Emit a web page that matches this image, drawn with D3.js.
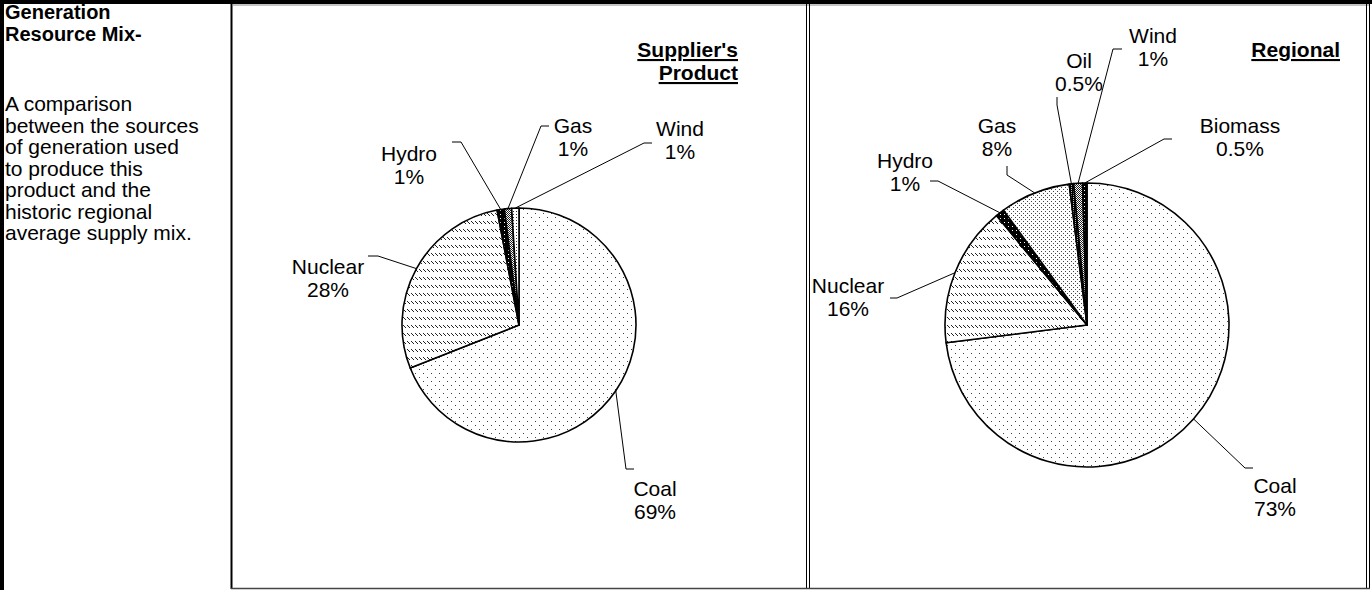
<!DOCTYPE html>
<html>
<head>
<meta charset="utf-8">
<script src="https://cdn.jsdelivr.net/npm/d3@7"></script>
<style>
  body { margin: 0; background: #fff; }
  text { font-family: "Liberation Sans", Arial, sans-serif; fill: #000; }
</style>
</head>
<body>
<svg id="chart"></svg>
<script>
// supplier's product mix (share of generation, %)
var supplierSources = ["Coal", "Nuclear", "Hydro", "Gas", "Wind"];
var supplierShares = [69, 28, 1, 1, 1];

// historic regional average mix (%)
var regionalSources = ["Coal", "Nuclear", "Hydro", "Gas", "Oil", "Wind", "Biomass"];
var regionalShares = [73, 16, 1, 8, 0.5, 1, 0.5];

var sideTitle = ["Generation", "Resource Mix-"];
var sideText = ["A comparison", "between the sources", "of generation used",
    "to produce this", "product and the", "historic regional", "average supply mix."];

var W = 1372, H = 590;
var FS = 21; // label font size
var svg = d3.select("#chart").attr("width", W).attr("height", H);
var defs = svg.append("defs");

// fill patterns, excel style
function makePattern(id, w, h, bg, fg, pixels) {
    var p = defs.append("pattern").attr("id", id)
        .attr("patternUnits", "userSpaceOnUse")
        .attr("width", w).attr("height", h);
    p.append("rect").attr("width", w).attr("height", h).attr("fill", bg);
    pixels.forEach(function(px) {
        p.append("rect").attr("x", px[0]).attr("y", px[1])
            .attr("width", 1).attr("height", 1).attr("fill", fg);
    });
}
makePattern("dotsSparse", 8, 8, "#fff", "#444", [[0, 0], [4, 4]]);
makePattern("hatch", 4, 8, "#fff", "#222", [[0, 0], [1, 1], [2, 2]]);
makePattern("dark", 4, 4, "#000", "#fff", [[1, 1]]);
makePattern("checker", 2, 2, "#fff", "#222", [[0, 0], [1, 1]]);
makePattern("dotsMid", 4, 4, "#fff", "#444", [[0, 0], [2, 2]]);
makePattern("dotsSmall", 3, 3, "#fff", "#333", [[0, 0]]);
makePattern("darkChecker", 2, 2, "#000", "#bbb", [[0, 0]]);

var supplierFills = ["dotsSparse", "hatch", "dark", "checker", "dotsSmall"];
var regionalFills = ["dotsSparse", "hatch", "dark", "dotsMid", "darkChecker", "checker", "dark"];

// frame -----------------------------------------------------------
var frame = svg.append("g").attr("class", "frame");
frame.append("rect").attr("x", 0).attr("y", 0).attr("width", W).attr("height", 4).attr("fill", "#000");
frame.append("rect").attr("x", 0).attr("y", 0).attr("width", 4).attr("height", H).attr("fill", "#000");
frame.append("line").attr("x1", 233).attr("x2", 1370).attr("y1", 5).attr("y2", 5)
    .attr("stroke", "#888").attr("stroke-width", 1);
frame.append("line").attr("x1", 231.5).attr("x2", 231.5).attr("y1", 0).attr("y2", 589)
    .attr("stroke", "#000").attr("stroke-width", 2);
[806.5, 809.5, 1366.5, 1369.5].forEach(function(x) {
    frame.append("line").attr("x1", x).attr("x2", x).attr("y1", 0).attr("y2", 589)
        .attr("stroke", "#000").attr("stroke-width", 1);
});
frame.append("line").attr("x1", 231).attr("x2", 1370).attr("y1", 588.5).attr("y2", 588.5)
    .attr("stroke", "#444").attr("stroke-width", 1.5);

// side text --------------------------------------------------------
var side = svg.append("g").attr("transform", "translate(5,0)");
side.selectAll("text.title").data(sideTitle).join("text")
    .attr("class", "title")
    .attr("y", function(d, i) { return 19 + i * 22; })
    .attr("font-size", 20).attr("font-weight", "bold")
    .text(function(d) { return d; });
side.selectAll("text.body").data(sideText).join("text")
    .attr("class", "body")
    .attr("y", function(d, i) { return 111 + i * 21.5; })
    .attr("font-size", FS)
    .text(function(d) { return d; });

// pies -------------------------------------------------------------
function drawPie(opts) {
    var g = svg.append("g");
    var pie = d3.pie().sort(null).value(function(d) { return d.value; });
    var rows = opts.sources.map(function(s, i) {
        return { name: s, value: opts.shares[i], fill: opts.fills[i] };
    });
    var arcs = pie(rows);
    var arc = d3.arc().innerRadius(0).outerRadius(opts.r);
    var edge = d3.arc().innerRadius(opts.r).outerRadius(opts.r);

    var pg = g.append("g").attr("transform", "translate(" + opts.cx + "," + opts.cy + ")");
    pg.selectAll("path").data(arcs).join("path")
        .attr("d", arc)
        .attr("fill", function(d) { return "url(#" + d.data.fill + ")"; })
        .attr("stroke", "#000").attr("stroke-width", 1.6)
        .attr("stroke-linejoin", "round");

    // leader lines + labels
    arcs.forEach(function(d) {
        var lab = opts.labels[d.data.name];
        var c = edge.centroid(d);
        var end = [opts.cx + c[0], opts.cy + c[1]];
        g.append("polyline")
            .attr("points", [lab.tick[0], lab.tick[1], end].map(function(p) { return p.join(","); }).join(" "))
            .attr("fill", "none").attr("stroke", "#000").attr("stroke-width", 1);
        var t = g.append("text").attr("text-anchor", "middle").attr("font-size", FS);
        t.append("tspan").attr("x", lab.x).attr("y", lab.y).text(d.data.name);
        t.append("tspan").attr("x", lab.x).attr("y", lab.y + 23).text(d.data.value + "%");
    });

    // chart title, bold underlined
    var tt = g.append("text").attr("text-anchor", "end").attr("font-size", FS)
        .attr("font-weight", "bold").attr("text-decoration", "underline");
    opts.title.forEach(function(line, i) {
        tt.append("tspan").attr("x", opts.titleX).attr("y", 57 + i * 23).text(line);
    });
}

drawPie({
    sources: supplierSources, shares: supplierShares, fills: supplierFills,
    cx: 519, cy: 325, r: 117,
    title: ["Supplier's", "Product"], titleX: 738,
    labels: {
        Coal:    { x: 655, y: 496, tick: [[634, 469], [626, 469]] },
        Nuclear: { x: 328, y: 274, tick: [[368, 256], [378, 256]] },
        Hydro:   { x: 409, y: 161, tick: [[452, 142], [461, 142]] },
        Gas:     { x: 573, y: 133, tick: [[549, 126], [541, 126]] },
        Wind:    { x: 680, y: 136, tick: [[652, 143], [644, 143]] }
    }
});

drawPie({
    sources: regionalSources, shares: regionalShares, fills: regionalFills,
    cx: 1087, cy: 325, r: 142,
    title: ["Regional"], titleX: 1340,
    labels: {
        Coal:    { x: 1275, y: 493, tick: [[1253, 468], [1245, 468]] },
        Nuclear: { x: 848,  y: 293, tick: [[890, 298], [897, 298]] },
        Hydro:   { x: 905,  y: 168, tick: [[930, 181], [938, 181]] },
        Gas:     { x: 997,  y: 133, tick: [[1007, 166], [1007, 175]] },
        Oil:     { x: 1079, y: 68,  tick: [[1057, 97], [1057, 105]] },
        Wind:    { x: 1153, y: 43,  tick: [[1122, 49], [1113, 49]] },
        Biomass: { x: 1240, y: 133, tick: [[1172, 139], [1164, 139]] }
    }
});
</script>
</body>
</html>
